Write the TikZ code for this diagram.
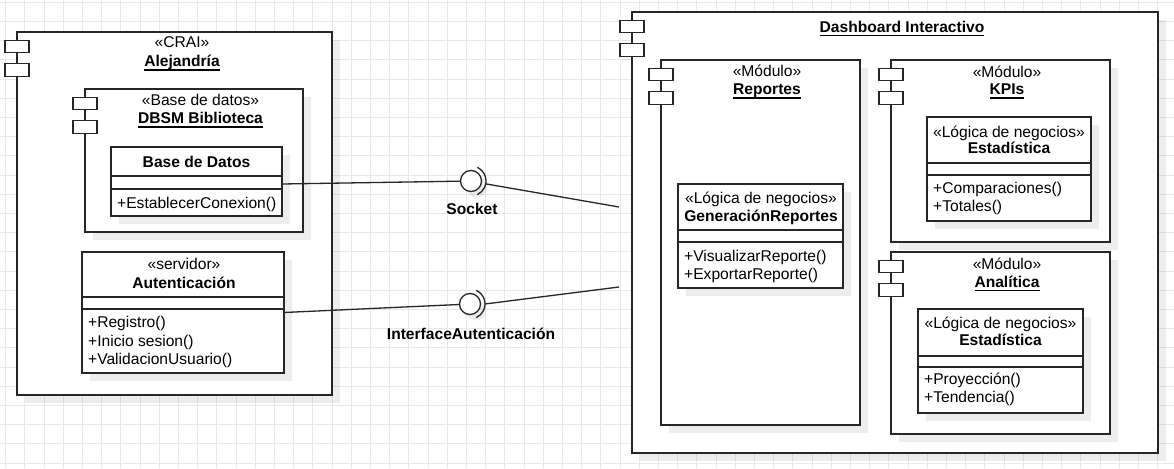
\documentclass[tikz,border=0pt]{standalone}
\usepackage{fontspec}
\setmainfont{Liberation Sans}
\usetikzlibrary{shadows}

\newcommand{\dfont}{\fontsize{15.6}{18}\selectfont}
\newcommand{\ulbf}[1]{\setbox0\hbox{#1}\rlap{\rule[-3.8pt]{\wd0}{1.3pt}}\box0}
\newcommand{\compicons}[1]{%
	\node[icon] (#1-ia) at ([yshift=-14.5pt]#1.north west) {};
	\node[icon] (#1-ib) at ([yshift=-38pt]#1.north west) {};
}

\tikzset{
	gridln/.style={black!9, line width=1pt},
	comp/.style={draw=black!85, fill=white, line width=1.3pt, rectangle, inner sep=0pt, outer sep=0pt, anchor=north west,
		drop shadow={shadow xshift=8pt, shadow yshift=-8pt, fill=black, opacity=0.07}},
	icon/.style={draw=black!85, fill=white, line width=1.3pt, rectangle, inner sep=0pt, minimum width=24pt, minimum height=12.5pt},
	ball/.style={draw=black!85, fill=white, line width=1.3pt, circle, inner sep=0pt, minimum size=21pt,
		drop shadow={shadow xshift=6pt, shadow yshift=-6pt, fill=black, opacity=0.07}},
	divider/.style={black!85, line width=1.3pt},
	link/.style={black!85, line width=1.3pt},
	ster/.style={inner sep=0pt, anchor=base, font=\dfont},
	title/.style={inner sep=0pt, anchor=base, font=\dfont\bfseries},
	meth/.style={inner sep=0pt, anchor=base west, font=\dfont},
}

\begin{document}
\begin{tikzpicture}[x=1pt, y=-1pt]

	\useasboundingbox (0,0) rectangle (1174,468);
	\fill[white] (0,0) rectangle (1174,468);

	% rejilla
	\foreach \gx in {0,...,60} \draw[gridln] ({5.7+19.2*\gx},0) -- ({5.7+19.2*\gx},468);
	\foreach \gy in {0,...,24} \draw[gridln] (0,{2.3+19.2*\gy}) -- (1174,{2.3+19.2*\gy});

	% CRAI
	\node[comp, minimum width=315pt, minimum height=363pt] (crai) at (17,32) {};
	\compicons{crai}
	\node[ster] (craiS) at (182,48) {«CRAI»};
	\node[title] (craiT) at (182,67) {\ulbf{Alejandría}};

	\node[comp, minimum width=218pt, minimum height=143pt] (dbsm) at (85,89) {};
	\compicons{dbsm}
	\node[ster] (dbsmS) at (200.5,106) {«Base de datos»};
	\node[title] (dbsmT) at (200.5,124) {\ulbf{DBSM Biblioteca}};

	\node[comp, minimum width=171pt, minimum height=69pt] (bd) at (111,147) {};
	\draw[divider] ([yshift=-29pt]bd.north west) -- ([yshift=-29pt]bd.north east);
	\draw[divider] ([yshift=-42pt]bd.north west) -- ([yshift=-42pt]bd.north east);
	\node[title] (bdT) at (196.5,167) {Base de Datos};
	\node[meth] (bdM1) at (117,208.5) {+EstablecerConexion()};

	\node[comp, minimum width=202pt, minimum height=121pt] (aut) at (82,252) {};
	\draw[divider] ([yshift=-45pt]aut.north west) -- ([yshift=-45pt]aut.north east);
	\draw[divider] ([yshift=-57pt]aut.north west) -- ([yshift=-57pt]aut.north east);
	\node[ster] (autS) at (184,269) {«servidor»};
	\node[title] (autT) at (184,288) {Autenticación};
	\node[meth] (autM1) at (88,327.5) {+Registro()};
	\node[meth] (autM2) at (88,346) {+Inicio sesion()};
	\node[meth] (autM3) at (88,364.5) {+ValidacionUsuario()};

	% Dashboard
	\node[comp, minimum width=526pt, minimum height=441pt] (dash) at (632,12) {};
	\compicons{dash}
	\node[title] (dashT) at (902,32.7) {\ulbf{Dashboard Interactivo}};

	\node[comp, minimum width=199pt, minimum height=365pt] (rep) at (661,60) {};
	\compicons{rep}
	\node[ster] (repS) at (767,77) {«Módulo»};
	\node[title] (repT) at (767,95) {\ulbf{Reportes}};

	\node[comp, minimum width=165pt, minimum height=104pt] (gen) at (678,184) {};
	\draw[divider] ([yshift=-46pt]gen.north west) -- ([yshift=-46pt]gen.north east);
	\draw[divider] ([yshift=-58pt]gen.north west) -- ([yshift=-58pt]gen.north east);
	\node[ster] (genS) at (761,203) {«Lógica de negocios»};
	\node[title] (genT) at (761,221) {GeneraciónReportes};
	\node[meth] (genM1) at (684,261) {+VisualizarReporte()};
	\node[meth] (genM2) at (684,279) {+ExportarReporte()};

	\node[comp, minimum width=219pt, minimum height=182pt] (kpi) at (891,60) {};
	\compicons{kpi}
	\node[ster] (kpiS) at (1007,78) {«Módulo»};
	\node[title] (kpiT) at (1007,95) {\ulbf{KPIs}};

	\node[comp, minimum width=164pt, minimum height=104pt] (kest) at (927,117) {};
	\draw[divider] ([yshift=-46pt]kest.north west) -- ([yshift=-46pt]kest.north east);
	\draw[divider] ([yshift=-58pt]kest.north west) -- ([yshift=-58pt]kest.north east);
	\node[ster] (kestS) at (1009,137) {«Lógica de negocios»};
	\node[title] (kestT) at (1009,153) {Estadística};
	\node[meth] (kestM1) at (933,193) {+Comparaciones()};
	\node[meth] (kestM2) at (933,211) {+Totales()};

	\node[comp, minimum width=219pt, minimum height=182pt] (ana) at (891,252) {};
	\compicons{ana}
	\node[ster] (anaS) at (1007,269) {«Módulo»};
	\node[title] (anaT) at (1007,287) {\ulbf{Analítica}};

	\node[comp, minimum width=165pt, minimum height=104pt] (aest) at (918,309) {};
	\draw[divider] ([yshift=-47pt]aest.north west) -- ([yshift=-47pt]aest.north east);
	\draw[divider] ([yshift=-58pt]aest.north west) -- ([yshift=-58pt]aest.north east);
	\node[ster] (aestS) at (1000.5,328) {«Lógica de negocios»};
	\node[title] (aestT) at (1000.5,345) {Estadística};
	\node[meth] (aestM1) at (924,384) {+Proyección()};
	\node[meth] (aestM2) at (924,402) {+Tendencia()};

	% interfaces
	\node[ball] (sockA) at (471,181) {};
	\draw[link] ([shift={(65:15pt)}]sockA.center) arc[start angle=65, end angle=-65, radius=15pt];
	\node[title] (sockAT) at (472,214) {Socket};

	\node[ball] (sockB) at (470,304) {};
	\draw[link] ([shift={(65:15pt)}]sockB.center) arc[start angle=65, end angle=-65, radius=15pt];
	\node[title] (sockBT) at (471,339) {InterfaceAutenticación};

	\coordinate (dsA) at (619,207);
	\coordinate (dsB) at (619,287);

	\draw[link] ([yshift=-2.5pt]bd.east) -- (sockA);
	\draw[link] ([shift={(-11:15pt)}]sockA.center) -- (dsA);
	\draw[link] (aut.east) -- (sockB);
	\draw[link] ([xshift=15pt]sockB.center) -- (dsB);

\end{tikzpicture}
\end{document}
